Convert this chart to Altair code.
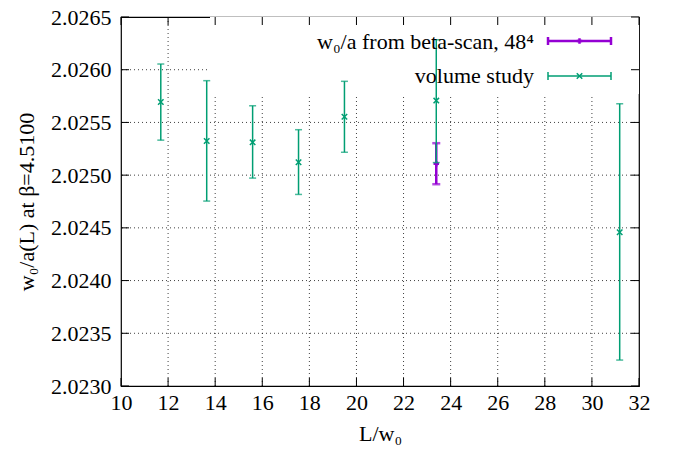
import altair as alt
import pandas as pd

# ---- data ----
L_vol = [11.69, 13.64, 15.59, 17.54, 19.49, 23.39, 31.18]
w_vol = [2.025694, 2.025324, 2.025311, 2.025123, 2.025554, 2.025707, 2.024458]
w_vol_lo = [2.025332, 2.024754, 2.024972, 2.024817, 2.025217, 2.025119, 2.023246]
w_vol_hi = [2.026054, 2.025896, 2.025658, 2.025431, 2.025890, 2.026284, 2.025677]

L_beta = [23.39]
w_beta = [2.025108]
w_beta_lo = [2.024914]
w_beta_hi = [2.025303]

x_ticks = [10, 12, 14, 16, 18, 20, 22, 24, 26, 28, 30, 32]
y_ticks = [2.0230, 2.0235, 2.0240, 2.0245, 2.0250, 2.0255, 2.0260, 2.0265]

legend_labels = ["w\u2080/a from beta-scan, 48\u2074", "volume study"]

GREEN = "#009e73"
PURPLE = "#9400d3"
FONT = "Liberation Serif"
W, H = 518, 369

vol = pd.DataFrame({"L": L_vol, "w": w_vol, "lo": w_vol_lo, "hi": w_vol_hi})
beta = pd.DataFrame({"L": L_beta, "w": w_beta, "lo": w_beta_lo, "hi": w_beta_hi})
xt = pd.DataFrame({"v": x_ticks})
yt = pd.DataFrame({"v": y_ticks})
xg = pd.DataFrame({"v": x_ticks[1:-1]})
yg = pd.DataFrame({"v": y_ticks[1:-1]})

xscale = alt.Scale(domain=[10, 32], nice=False, zero=False)
yscale = alt.Scale(domain=[2.0230, 2.0265], nice=False, zero=False)

xaxis = alt.Axis(values=x_ticks, format="d", ticks=False, domain=False, grid=False,
                 labelFlush=False, labelPadding=6, title="L/w\u2080", titlePadding=10)
yaxis = alt.Axis(values=y_ticks, format=".4f", ticks=False, domain=False, grid=False,
                 labelFlush=False, labelPadding=10, title="w\u2080/a(L) at \u03b2=4.5100",
                 titlePadding=12)


def XE(field):
    return alt.X(field, scale=xscale, axis=xaxis)


def YE(field):
    return alt.Y(field, scale=yscale, axis=yaxis)


grid_style = dict(color="#000000", strokeDash=[1, 3], strokeWidth=1, opacity=0.75)

vgrid = alt.Chart(xg).mark_rule(**grid_style).encode(x=XE("v:Q"))
hgrid = alt.Chart(yg).mark_rule(**grid_style).encode(y=YE("v:Q"))

# opaque key box (covers grid lines, like gnuplot's "key opaque")
keybox = alt.Chart(pd.DataFrame({"k": [0]})).mark_rect(color="white").encode(
    x=alt.value(89), x2=alt.value(W), y=alt.value(0), y2=alt.value(77))


def errbars(df, color, lw, capw, shape, msize):
    bar = alt.Chart(df).mark_rule(color=color, strokeWidth=lw).encode(
        x=XE("L:Q"), y=YE("lo:Q"), y2="hi:Q")
    cap_lo = alt.Chart(df).mark_tick(color=color, orient="horizontal", size=capw, thickness=lw).encode(
        x=XE("L:Q"), y=YE("lo:Q"))
    cap_hi = alt.Chart(df).mark_tick(color=color, orient="horizontal", size=capw, thickness=lw).encode(
        x=XE("L:Q"), y=YE("hi:Q"))
    pt = alt.Chart(df).mark_point(shape=shape, color=color, filled=False, size=msize,
                                  strokeWidth=lw, opacity=1).encode(
        x=XE("L:Q"), y=YE("w:Q"))
    return [bar, cap_lo, cap_hi, pt]


XSHAPE = "M-1,-1L1,1M-1,1L1,-1"
PSHAPE = "M-1,0L1,0M0,-1L0,1"

beta_layers = errbars(beta, PURPLE, 2.5, 8, PSHAPE, 30)
vol_layers = errbars(vol, GREEN, 1.5, 7, XSHAPE, 30)

# inward ticks on all four sides
tick_style = dict(color="black", strokeWidth=1)
tb = alt.Chart(xt).mark_rule(**tick_style).encode(
    x=XE("v:Q"), y=alt.value(H), y2=alt.value(H - 8))
tt = alt.Chart(xt).mark_rule(**tick_style).encode(
    x=XE("v:Q"), y=alt.value(0), y2=alt.value(8))
tl = alt.Chart(yt).mark_rule(**tick_style).encode(
    y=YE("v:Q"), x=alt.value(0), x2=alt.value(8))
tr = alt.Chart(yt).mark_rule(**tick_style).encode(
    y=YE("v:Q"), x=alt.value(W), x2=alt.value(W - 8))

# manual key
key_text = alt.Chart(pd.DataFrame({"label": [legend_labels[0]]})).mark_text(
    align="right", baseline="middle", font=FONT, fontSize=22, color="black").encode(
    text="label:N", x=alt.value(413), y=alt.value(25))
key_text2 = alt.Chart(pd.DataFrame({"label": [legend_labels[1]]})).mark_text(
    align="right", baseline="middle", font=FONT, fontSize=22, color="black").encode(
    text="label:N", x=alt.value(413), y=alt.value(59))


def key_sample(ypix, color, lw, shape):
    d = pd.DataFrame({"k": [0]})
    line = alt.Chart(d).mark_rule(color=color, strokeWidth=lw).encode(
        x=alt.value(427), x2=alt.value(490), y=alt.value(ypix))
    c1 = alt.Chart(d).mark_rule(color=color, strokeWidth=lw).encode(
        x=alt.value(427), y=alt.value(ypix - 4), y2=alt.value(ypix + 4))
    c2 = alt.Chart(d).mark_rule(color=color, strokeWidth=lw).encode(
        x=alt.value(490), y=alt.value(ypix - 4), y2=alt.value(ypix + 4))
    m = alt.Chart(d).mark_point(shape=shape, color=color, filled=False, size=30,
                                strokeWidth=lw, opacity=1).encode(
        x=alt.value(458.5), y=alt.value(ypix))
    return [line, c1, c2, m]


layers = ([vgrid, hgrid, keybox] + beta_layers + vol_layers + [tb, tt, tl, tr, key_text, key_text2]
          + key_sample(24, PURPLE, 2.5, PSHAPE) + key_sample(59, GREEN, 1.5, XSHAPE))

chart = alt.layer(*layers).properties(
    width=W, height=H,
    autosize=alt.AutoSizeParams(type="none"),
    padding={"left": 121, "top": 17, "right": 38, "bottom": 67},
    background="white",
).configure_view(
    stroke="black", strokeWidth=1.2
).configure_axis(
    labelFont=FONT, labelFontSize=22, labelColor="black",
    titleFont=FONT, titleFontSize=22, titleColor="black", titleFontWeight="normal",
)

chart.save("out.html", embed_options={"renderer": "svg", "actions": False})
